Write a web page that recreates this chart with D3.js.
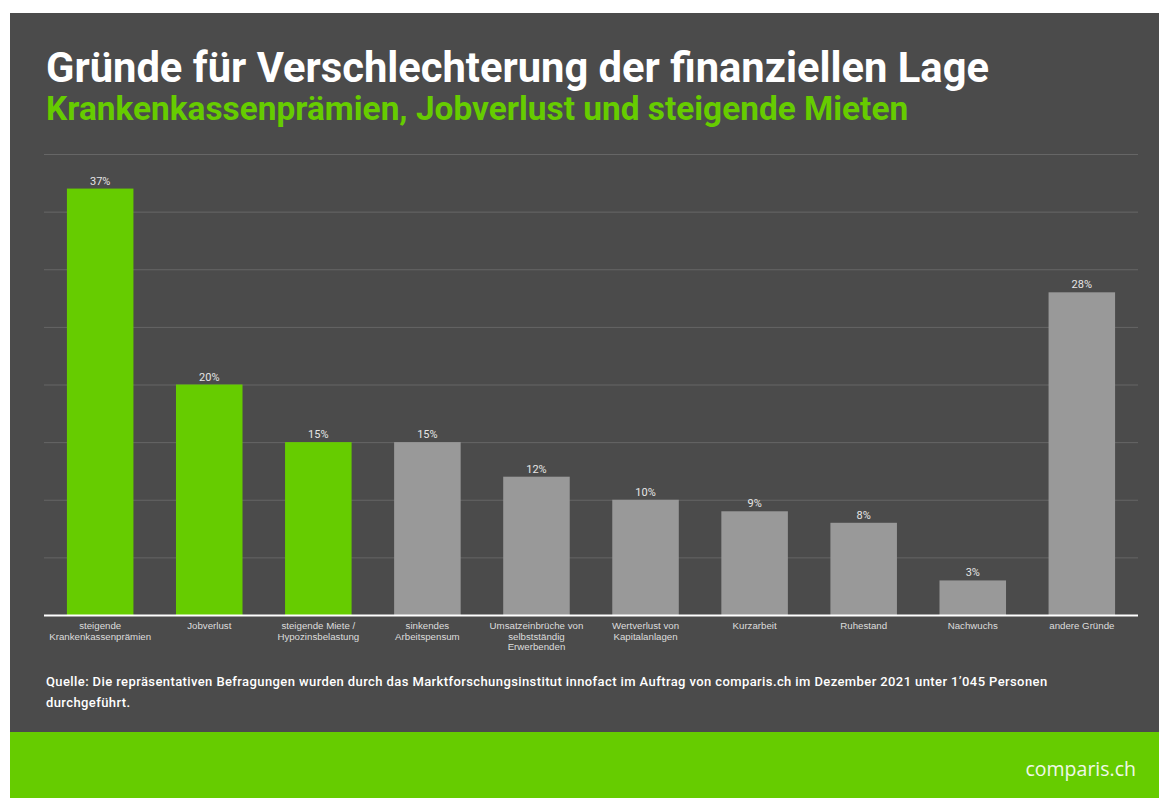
<!DOCTYPE html>
<html>
<head>
<meta charset="utf-8">
<script src="https://cdn.jsdelivr.net/npm/d3@7"></script>
<style>
  body { margin: 0; background: #fff; }
  svg { display: block; font-family: Roboto, "Noto Sans", sans-serif; }
</style>
</head>
<body>
<svg id="chart"></svg>
<script>
const width = 1160;
const height = 798;

// chart data
const categories = [
  "steigende Krankenkassenprämien",
  "Jobverlust",
  "steigende Miete / Hypozinsbelastung",
  "sinkendes Arbeitspensum",
  "Umsatzeinbrüche von selbstständig Erwerbenden",
  "Wertverlust von Kapitalanlagen",
  "Kurzarbeit",
  "Ruhestand",
  "Nachwuchs",
  "andere Gründe"
];
// how the axis labels wrap in the picture
const labelLines = [
  ["steigende", "Krankenkassenprämien"],
  ["Jobverlust"],
  ["steigende Miete /", "Hypozinsbelastung"],
  ["sinkendes", "Arbeitspensum"],
  ["Umsatzeinbrüche von", "selbstständig", "Erwerbenden"],
  ["Wertverlust von", "Kapitalanlagen"],
  ["Kurzarbeit"],
  ["Ruhestand"],
  ["Nachwuchs"],
  ["andere Gründe"]
];
const values = [37, 20, 15, 15, 12, 10, 9, 8, 3, 28];
const highlighted = ["steigende Krankenkassenprämien", "Jobverlust", "steigende Miete / Hypozinsbelastung"];
const gridTicks = [0, 5, 10, 15, 20, 25, 30, 35, 40];

const data = categories.map((c, i) => ({ category: c, value: values[i], lines: labelLines[i] }));

const green = "#66cc00";
const grey = "#999999";
const panel = "#4b4b4b";

const svg = d3.select("#chart")
  .attr("width", width)
  .attr("height", height);

// background panel + green footer band
svg.append("rect")
  .attr("x", 10).attr("y", 13)
  .attr("width", 1149).attr("height", 719)
  .attr("fill", panel);

svg.append("rect")
  .attr("x", 10).attr("y", 732)
  .attr("width", 1149).attr("height", 66)
  .attr("fill", green);

// titles
svg.append("text")
  .attr("x", 46).attr("y", 82)
  .attr("fill", "#ffffff")
  .attr("font-size", 41.7)
  .attr("font-weight", 700)
  .text("Gründe für Verschlechterung der finanziellen Lage");

svg.append("text")
  .attr("x", 46).attr("y", 120)
  .attr("fill", green)
  .attr("font-size", 33.4)
  .attr("font-weight", 700)
  .text("Krankenkassenprämien, Jobverlust und steigende Mieten");

// scales
const x = d3.scaleBand()
  .domain(categories)
  .range([44, 1138])
  .paddingInner(0.39)
  .paddingOuter(0.21);

const y = d3.scaleLinear()
  .domain([0, 40])
  .range([615, 154]);

// gridlines
const grid = svg.append("g")
  .attr("transform", "translate(44,0)")
  .call(d3.axisLeft(y).tickValues(gridTicks).tickSize(-1094).tickFormat(""));
grid.select(".domain").remove();
grid.selectAll(".tick line").attr("stroke", "#666666").attr("stroke-width", 1);

// bars
svg.append("g")
  .selectAll("rect")
  .data(data)
  .enter()
  .append("rect")
  .attr("x", d => x(d.category))
  .attr("y", d => y(d.value))
  .attr("width", x.bandwidth())
  .attr("height", d => y(0) - y(d.value))
  .attr("fill", d => highlighted.includes(d.category) ? green : grey);

// value labels
svg.append("g")
  .selectAll("text")
  .data(data)
  .enter()
  .append("text")
  .attr("x", d => x(d.category) + x.bandwidth() / 2)
  .attr("y", d => y(d.value) - 4)
  .attr("text-anchor", "middle")
  .attr("fill", "#e6e6e6")
  .attr("font-size", 11)
  .text(d => d.value + "%");

// x axis with multi-line labels
const xAxisG = svg.append("g")
  .attr("transform", `translate(0,${y(0)})`)
  .call(d3.axisBottom(x).tickSize(0).tickFormat(""));
xAxisG.select(".domain")
  .attr("stroke", "#ffffff")
  .attr("stroke-width", 2)
  .attr("d", "M44,0.5H1138");

xAxisG.selectAll(".tick text").remove();
xAxisG.selectAll(".tick")
  .data(data)
  .append("text")
  .attr("fill", "#dddddd")
  .attr("font-size", 9.7)
  .attr("text-anchor", "middle")
  .selectAll("tspan")
  .data(d => d.lines)
  .enter()
  .append("tspan")
  .attr("x", 0)
  .attr("y", (d, i) => 14 + i * 10.5)
  .text(d => d);

// source note
const source = svg.append("text")
  .attr("fill", "#ffffff")
  .attr("font-size", 13)
  .attr("font-weight", 500)
  .attr("letter-spacing", 0.4);
source.append("tspan").attr("x", 46).attr("y", 686)
  .text("Quelle: Die repräsentativen Befragungen wurden durch das Marktforschungsinstitut innofact im Auftrag von comparis.ch im Dezember 2021 unter 1’045 Personen");
source.append("tspan").attr("x", 46).attr("y", 707)
  .text("durchgeführt.");

// logo
svg.append("text")
  .attr("x", 1136).attr("y", 776)
  .attr("text-anchor", "end")
  .attr("fill", "#f0f8e8")
  .attr("font-size", 19.5)
  .attr("font-family", "'Open Sans', sans-serif")
  .text("comparis.ch");
</script>
</body>
</html>
